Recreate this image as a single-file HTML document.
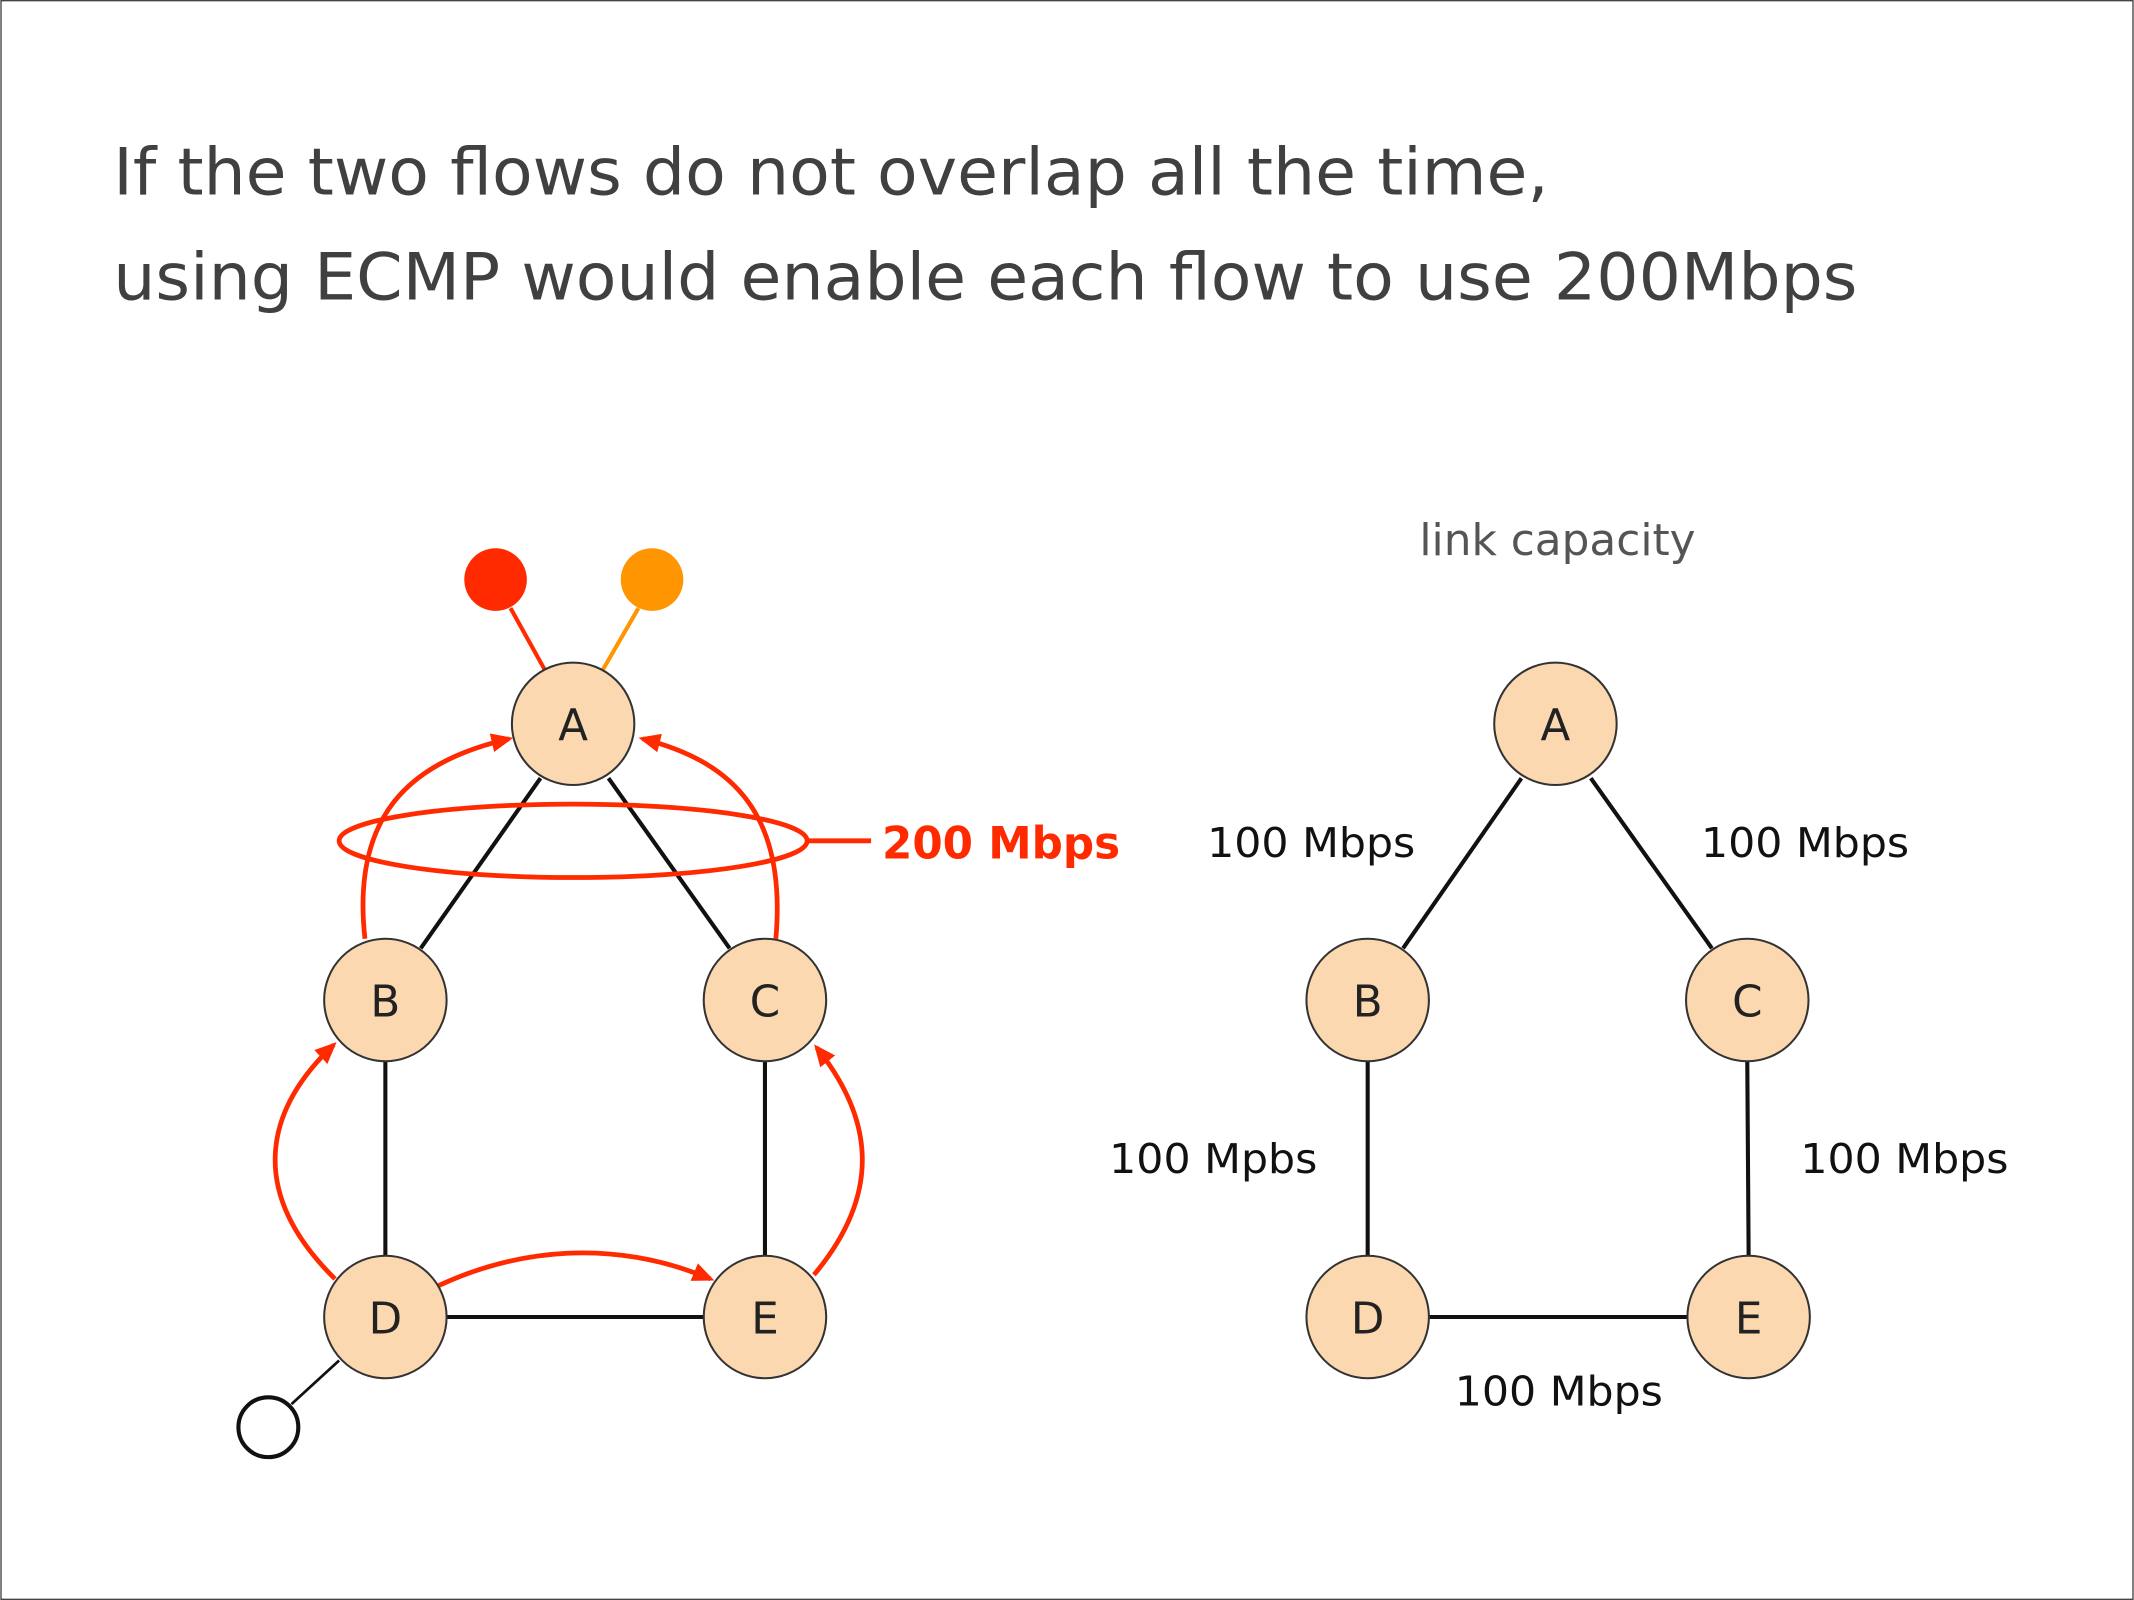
<!DOCTYPE html>
<html><head><meta charset="utf-8"><style>html,body{margin:0;padding:0;background:#fff}svg{display:block}</style></head>
<body>
<svg width="2134" height="1600" viewBox="0 0 1568 1176" xmlns="http://www.w3.org/2000/svg" font-family="'DejaVu Sans','Liberation Sans',sans-serif">
<defs>
<marker id="ar" markerWidth="16" markerHeight="14" refX="13" refY="7" orient="auto" markerUnits="userSpaceOnUse" viewBox="0 0 16 14">
<path d="M0,0 L16,7 L0,14 z" fill="#ff2a00"/></marker>
</defs>
<rect x="0.5" y="0.5" width="1567" height="1175" fill="#fff" stroke="#444" stroke-width="1"/>
<text x="83" y="143" font-size="48" fill="#404040" textLength="1055" lengthAdjust="spacingAndGlyphs">If the two flows do not overlap all the time,</text>
<text x="83" y="220" font-size="48" fill="#404040" textLength="1282" lengthAdjust="spacingAndGlyphs">using ECMP would enable each flow to use 200Mbps</text>

<g stroke="#111" stroke-width="3" fill="none">
<line x1="397" y1="572" x2="309" y2="697"/>
<line x1="447" y1="572" x2="536" y2="697"/>
<line x1="283" y1="780" x2="283" y2="923"/>
<line x1="562" y1="780" x2="562" y2="923"/>
<line x1="328" y1="968" x2="517" y2="968"/>
<line x1="249" y1="1000" x2="214" y2="1032" stroke-width="2"/>
</g>
<line x1="400" y1="492" x2="375" y2="447" stroke="#ff2a00" stroke-width="3"/>
<line x1="443" y1="492" x2="469" y2="447" stroke="#ff9500" stroke-width="3"/>
<circle cx="364" cy="426" r="23" fill="#ff2a00"/>
<circle cx="479" cy="426" r="23" fill="#ff9500"/>
<circle cx="197" cy="1049" r="22" fill="#fff" stroke="#111" stroke-width="3"/>

<g stroke="#ff2a00" stroke-width="3.5" fill="none">
<path d="M268,690 C258,600 300,560 374,543" marker-end="url(#ar)"/>
<path d="M570,690 C578,600 540,560 472,543" marker-end="url(#ar)"/>
<path d="M246,940 C185,880 190,820 245,768" marker-end="url(#ar)"/>
<path d="M598,937 C650,875 640,820 600,770" marker-end="url(#ar)"/>
<path d="M322,945 C380,918 450,910 522,940" marker-end="url(#ar)"/>
<ellipse cx="421" cy="618" rx="172" ry="27"/>
<line x1="593" y1="618" x2="640" y2="618"/>
</g>
<text x="648" y="631" font-size="33" font-weight="bold" fill="#ff2a00" textLength="175" lengthAdjust="spacingAndGlyphs">200 Mbps</text>

<g fill="#fbd8b0" stroke="#333" stroke-width="1.5">
<circle cx="421" cy="532" r="45"/><circle cx="283" cy="735" r="45"/><circle cx="562" cy="735" r="45"/>
<circle cx="283" cy="968" r="45"/><circle cx="562" cy="968" r="45"/>
</g>
<g font-size="32" fill="#222" text-anchor="middle">
<text x="421" y="544">A</text><text x="283" y="747">B</text><text x="562" y="747">C</text>
<text x="283" y="980">D</text><text x="562" y="980">E</text>
</g>

<text x="1043" y="408" font-size="32" fill="#555" textLength="203" lengthAdjust="spacingAndGlyphs">link capacity</text>
<g stroke="#111" stroke-width="3" fill="none">
<line x1="1118" y1="572" x2="1031" y2="697"/>
<line x1="1169" y1="572" x2="1258" y2="697"/>
<line x1="1005" y1="780" x2="1005" y2="923"/>
<line x1="1284" y1="780" x2="1285" y2="923"/>
<line x1="1050" y1="968" x2="1240" y2="968"/>
</g>
<g fill="#fbd8b0" stroke="#333" stroke-width="1.5">
<circle cx="1143" cy="532" r="45"/><circle cx="1005" cy="735" r="45"/><circle cx="1284" cy="735" r="45"/>
<circle cx="1005" cy="968" r="45"/><circle cx="1285" cy="968" r="45"/>
</g>
<g font-size="32" fill="#222" text-anchor="middle">
<text x="1143" y="544">A</text><text x="1005" y="747">B</text><text x="1284" y="747">C</text>
<text x="1005" y="980">D</text><text x="1285" y="980">E</text>
</g>
<g font-size="30" fill="#111">
<text x="887" y="630" textLength="153" lengthAdjust="spacingAndGlyphs">100 Mbps</text>
<text x="1250" y="630" textLength="153" lengthAdjust="spacingAndGlyphs">100 Mbps</text>
<text x="815" y="862" textLength="153" lengthAdjust="spacingAndGlyphs">100 Mpbs</text>
<text x="1323" y="862" textLength="153" lengthAdjust="spacingAndGlyphs">100 Mbps</text>
<text x="1069" y="1033" textLength="153" lengthAdjust="spacingAndGlyphs">100 Mbps</text>
</g>
</svg>
</body></html>
